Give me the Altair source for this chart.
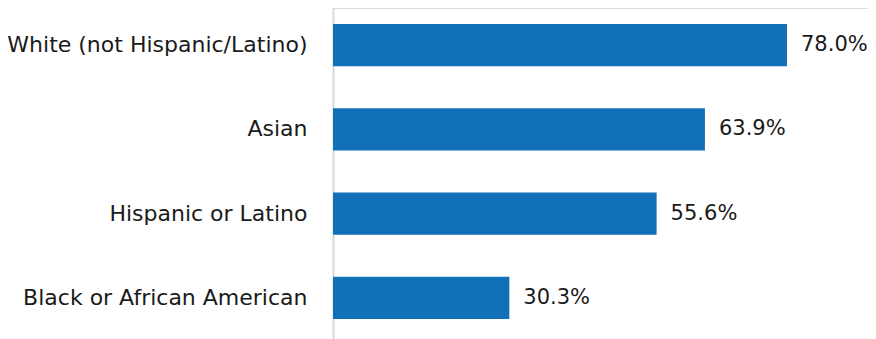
import altair as alt
import pandas as pd

categories = ["White (not Hispanic/Latino)", "Asian", "Hispanic or Latino", "Black or African American"]
values = [78.0, 63.9, 55.6, 30.3]
labels = ["78.0%", "63.9%", "55.6%", "30.3%"]

df = pd.DataFrame({"cat": categories, "val": values, "label": labels})

FONT = "DejaVu Sans"
W = 535
PX_PER_UNIT = 454 / 78
y = alt.Y("cat:N", sort=categories, title=None,
          scale=alt.Scale(range=[-5, 332], paddingInner=0.5, paddingOuter=0.25),
          axis=alt.Axis(domain=True, domainColor="#d9d9d9", domainWidth=2, ticks=False,
                        grid=False, labelPadding=26, labelFontSize=22, labelFont=FONT,
                        labelColor="#1a1a1a", labelLimit=400))
x = alt.X("val:Q", scale=alt.Scale(domain=[0, W / PX_PER_UNIT]), axis=None)

bars = alt.Chart(df).mark_bar(color="#1170b8").encode(x=x, y=y)
text = alt.Chart(df).mark_text(align="left", dx=14, fontSize=21, font=FONT,
                               color="#1a1a1a").encode(x=x, y=y, text="label:N")

chart = (bars + text).properties(
    width=W, height=331,
    autosize=alt.AutoSizeParams(type="none"),
    padding={"left": 325, "top": 0, "right": 0, "bottom": 0},
).configure_view(stroke="transparent", strokeOpacity=0, strokeWidth=0).configure(background="white")

chart.save("out.html", embed_options={"renderer": "svg", "actions": False})
